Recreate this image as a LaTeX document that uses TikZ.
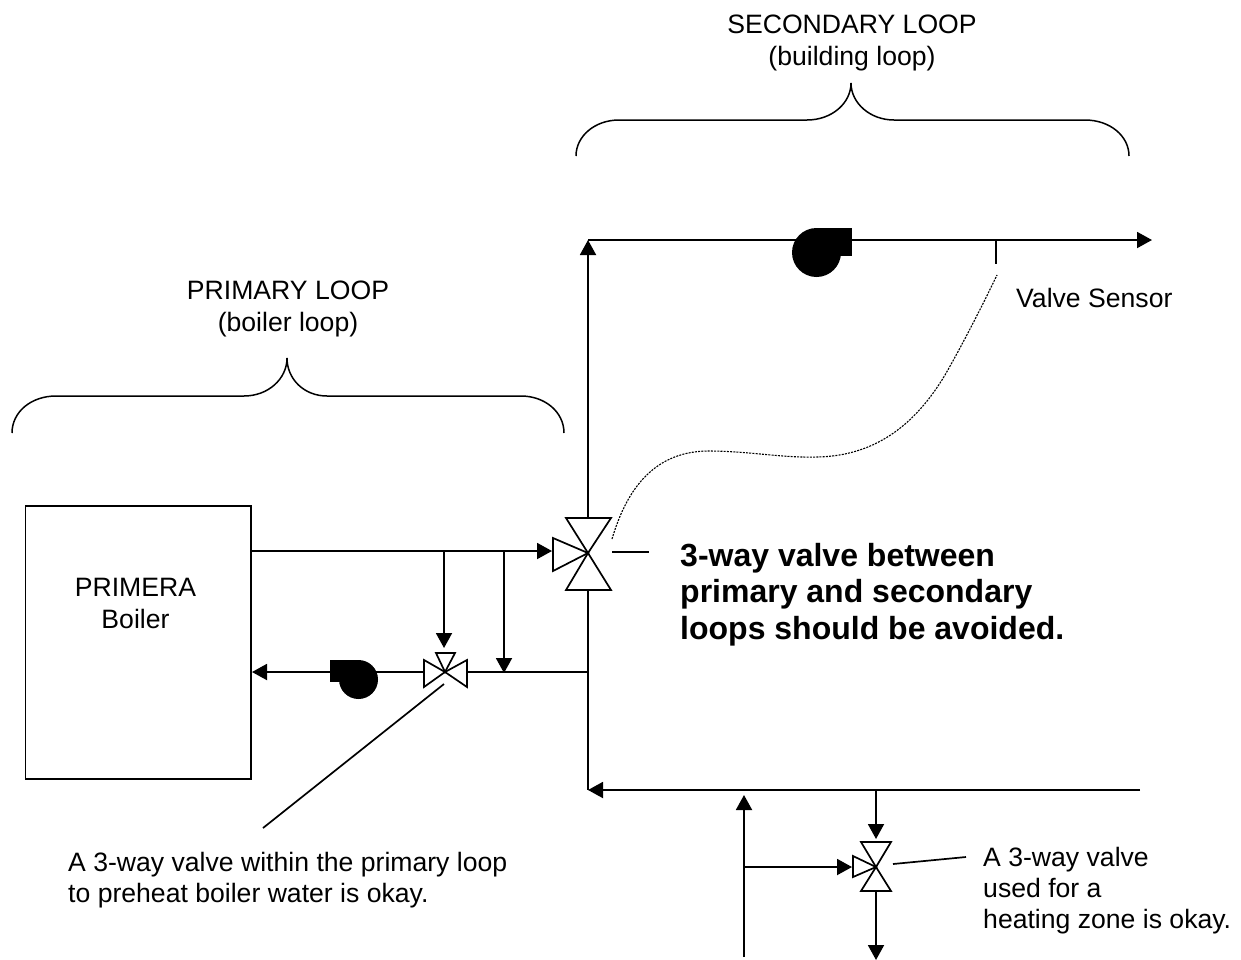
\documentclass[tikz,border=0pt]{standalone}
\usepackage{fontspec}
\setmainfont{Liberation Sans}
\usetikzlibrary{arrows.meta}
\tikzset{
  x=1pt,y=-1pt,
  pipe/.style={line width=1.9pt,draw=black},
  flow/.style={pipe,-{Triangle[width=16pt,length=15pt]},shorten >=0pt},
  thin line/.style={line width=1.7pt,draw=black},
  valve/.style={line width=1.7pt,draw=black,fill=white,line join=miter},
  pumpfill/.style={fill=black,draw=none},
  label/.style={inner sep=0pt,align=left,font=\fontsize{26.6}{31.2}\selectfont,anchor=north west},
  clabel/.style={inner sep=0pt,align=center,font=\fontsize{26.6}{32}\selectfont},
  boldlabel/.style={inner sep=0pt,align=left,font=\fontsize{32}{36.5}\selectfont\bfseries,anchor=north west},
  curly/.style={line width=1.5pt,draw=black},
}
\begin{document}
\begin{tikzpicture}
\useasboundingbox (0,0) rectangle (1241,959);
\fill[white] (0,0) rectangle (1241,959);
% junction and end points
\coordinate (bout) at (252,551);
\coordinate (v1in) at (552,551);
\coordinate (v1) at (588,553);
\coordinate (v1top) at (588,518);
\coordinate (v1bot) at (588,590);
\coordinate (corner) at (588,240);
\coordinate (supplyend) at (1152,240);
\coordinate (j1) at (444,551);
\coordinate (j2) at (504,551);
\coordinate (v2) at (445,672);
\coordinate (v2top) at (444,648);
\coordinate (v2l) at (424,672);
\coordinate (v2r) at (467,672);
\coordinate (r1) at (504,673);
\coordinate (r2) at (588,672);
\coordinate (bin) at (252,672);
\coordinate (retcorner) at (588,790);
\coordinate (retstart) at (1140,790);
\coordinate (z1) at (876,790);
\coordinate (v3) at (876,867);
\coordinate (v3in) at (852,867);
\coordinate (v3topin) at (876,839);
\coordinate (v3bot) at (876,891);
\coordinate (zout) at (876,960);
\coordinate (zb) at (744,957);
\coordinate (zt) at (744,795);
\coordinate (zj) at (744,867);
\coordinate (sens) at (996,240);
\coordinate (sensb) at (996,264);
% boiler
\node[draw=black,line width=1.7pt,minimum width=225.5pt,minimum height=273pt,inner sep=0pt,anchor=north west] (boiler) at (24.5,505) {};
\node[clabel] (boilertxt) at (135.5,603) {PRIMERA\\Boiler};
% pipes
\draw[flow] (bout) -- (v1in);
\draw[flow] (j1) -- (v2top);
\draw[flow] (j2) -- (r1);
\draw[flow] (v1top) -- (corner);
\draw[flow] (corner) -- (supplyend);
\draw[pipe] (v1bot) -- (retcorner);
\draw[flow] (retstart) -- (retcorner);
\draw[pipe] (r2) -- (v2r);
\draw[flow] (v2l) -- (bin);
\draw[flow] (z1) -- (v3topin);
\draw[flow] (zb) -- (zt);
\draw[flow] (zj) -- (v3in);
\draw[flow] (v3bot) -- (zout);
\draw[thin line] (sens) -- (sensb);
% valves
\draw[valve] (v1) -- (566,518) -- (611,518) -- cycle;
\draw[valve] (v1) -- (566,590) -- (611,590) -- cycle;
\draw[valve] (v1) -- (553,538) -- (553,571) -- cycle;
\draw[valve] (v2) -- (436,653) -- (455,653) -- cycle;
\draw[valve] (v2) -- (424,660) -- (424,687) -- cycle;
\draw[valve] (v2) -- (467,660) -- (467,687) -- cycle;
\draw[valve] (v3) -- (861,842) -- (891,842) -- cycle;
\draw[valve] (v3) -- (861,891) -- (891,891) -- cycle;
\draw[valve] (v3) -- (853,856) -- (853,877) -- cycle;
% pumps
\fill[pumpfill] (816.5,252.5) circle (24.5);
\fill[pumpfill] (816.5,228) rectangle (852,256);
\fill[pumpfill] (358.5,679.5) circle (19.5);
\fill[pumpfill] (330,660) rectangle (358.5,682);
% leaders
\draw[thin line] (612,552) -- (649,552);
\draw[thin line] (444,684) -- (263,828);
\draw[thin line] (893,864) -- (966,857);
\draw[line width=1.1pt,dash pattern=on 2pt off 1.2pt] (612,539) .. controls (625,495) and (650,452) .. (707,451) .. controls (750,451) and (780,458) .. (817,457) .. controls (875,456) and (915,425) .. (945,375) .. controls (965,340) and (985,300) .. (997,275);
% braces
\draw[curly] (576,156) .. controls (576,136) and (595,120) .. (619,120) -- (807,120) .. controls (832,120) and (851,103) .. (851,83) .. controls (851,103) and (870,120) .. (894,120) -- (1085,120) .. controls (1110,120) and (1129,136) .. (1129,156);
\draw[curly] (12,433) .. controls (12,412) and (31,396) .. (56,396) -- (244,396) .. controls (268,396) and (287,379) .. (287,358) .. controls (287,379) and (304,396) .. (327,396) -- (521,396) .. controls (545,396) and (564,412) .. (564,433);
% labels
\node[clabel] (sec) at (852,43) {SECONDARY LOOP\\(building loop)};
\node[clabel] (pri) at (288,309) {PRIMARY LOOP\\(boiler loop)};
\node[label] (vs) at (1016,288) {Valve Sensor};
\node[boldlabel] (warn) at (680,543) {3-way valve between\\primary and secondary\\loops should be avoided.};
\node[label] (okone) at (68,852) {A 3-way valve within the primary loop\\to preheat boiler water is okay.};
\node[label] (oktwo) at (983,847) {A 3-way valve\\used for a\\heating zone is okay.};
\end{tikzpicture}
\end{document}
